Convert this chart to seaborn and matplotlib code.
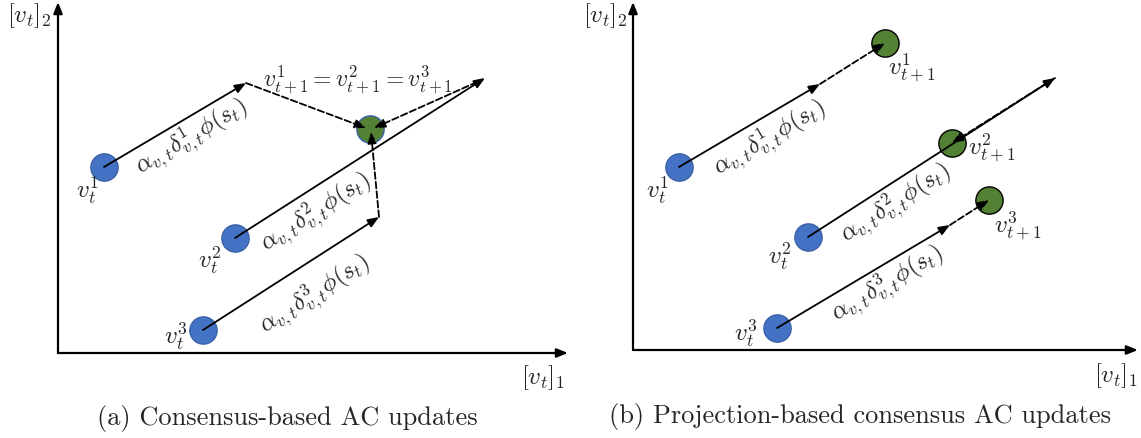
import matplotlib
matplotlib.use('Agg')
import matplotlib.pyplot as plt
import numpy as np
import pandas as pd
import seaborn as sns

# panel (a): consensus-based updates (pixel coords of each panel, y downward)
a_start_x = [104, 235, 203]
a_start_y = [167, 238, 330]
a_tip_x = [246, 485, 379]
a_tip_y = [83, 78, 217]
a_merge_x = [370]
a_merge_y = [129]

# panel (b): projection-based updates
b_start_x = [109, 238, 207]
b_start_y = [167, 237, 328]
b_tip_x = [250, 485, 380]
b_tip_y = [84, 78, 225]
b_proj_x = [315, 382, 419]
b_proj_y = [43, 143, 200]

agents = ['1', '2', '3']
captions = ['(a) Consensus-based AC updates',
            '(b) Projection-based consensus AC updates']

sns.set_theme(style='white')
plt.rcParams['mathtext.fontset'] = 'cm'
plt.rcParams['font.family'] = ['DejaVu Sans']

BLUE = '#4472C4'
GREEN = '#548235'
FS = 18


def arrow(ax, x0, y0, x1, y1, dashed=False, lw=1.3):
    ax.annotate('', xy=(x1, y1), xytext=(x0, y0),
                arrowprops=dict(arrowstyle='-|>,head_length=0.55,head_width=0.22',
                                color='black', lw=lw, shrinkA=0, shrinkB=0,
                                linestyle='--' if dashed else '-',
                                mutation_scale=12),
                zorder=4)


def frame(ax, ox, oy, right, top):
    arrow(ax, ox, oy, right, oy, lw=1.6)
    arrow(ax, ox, oy, ox, top, lw=1.6)


def nodes(ax, xs, ys, color, edge):
    df = pd.DataFrame({'x': xs, 'y': ys})
    sns.scatterplot(data=df, x='x', y='y', color=color, s=385, edgecolor=edge,
                    linewidth=1.0, legend=False, ax=ax, zorder=3)


def step_labels(ax, sx, sy, tx, ty, offsets):
    for i, k in enumerate(agents):
        ang = np.degrees(np.arctan2(sy[i] - ty[i], tx[i] - sx[i]))
        ax.text(offsets[i][0], offsets[i][1],
                r'$\alpha_{v,t}\delta^{%s}_{v,t}\phi(s_t)$' % k,
                rotation=ang, rotation_mode='anchor', ha='center', va='center',
                fontsize=17.5, zorder=5)


fig = plt.figure(figsize=(11.41, 4.38), dpi=100)
ax_a = fig.add_axes([0, 0, 570 / 1141, 1])
ax_b = fig.add_axes([570 / 1141, 0, 571 / 1141, 1])
for ax, w in ((ax_a, 570), (ax_b, 571)):
    ax.set_xlim(0, w)
    ax.set_ylim(438, 0)
    ax.axis('off')

# ---- panel (a)
frame(ax_a, 58, 353, 568, 2)
nodes(ax_a, a_start_x, a_start_y, BLUE, '#3A62A8')
nodes(ax_a, a_merge_x, a_merge_y, GREEN, '#3A62A8')
for i in range(3):
    arrow(ax_a, a_start_x[i], a_start_y[i], a_tip_x[i], a_tip_y[i])
arrow(ax_a, a_tip_x[0], a_tip_y[0], a_merge_x[0] - 4, a_merge_y[0] - 1, dashed=True)
arrow(ax_a, a_tip_x[2], a_tip_y[2], a_merge_x[0] + 1, a_merge_y[0] + 3, dashed=True)
arrow(ax_a, a_tip_x[1] - 8, a_tip_y[1] + 4, a_merge_x[0] + 4, a_merge_y[0] - 1, dashed=True)
step_labels(ax_a, a_start_x, a_start_y, a_tip_x, a_tip_y,
            [(192, 138), (316, 213), (315, 295)])
ax_a.text(358, 80, r'$v^1_{t+1} = v^2_{t+1}= v^3_{t+1}$', ha='center', va='center',
          fontsize=17)
for (x, y), k in zip([(87, 191), (210, 261), (176, 337)], agents):
    ax_a.text(x, y, r'$v^{%s}_t$' % k, ha='center', va='center', fontsize=FS)
ax_a.text(29, 16, r'$[v_t]_2$', ha='center', va='center', fontsize=FS)
ax_a.text(543, 378, r'$[v_t]_1$', ha='center', va='center', fontsize=FS)
ax_a.text(287, 419, captions[0], ha='center', va='center', fontsize=19,
          family='cmr10')

# ---- panel (b)
frame(ax_b, 63, 350, 568, 2)
nodes(ax_b, b_start_x, b_start_y, BLUE, '#3A62A8')
nodes(ax_b, b_proj_x, b_proj_y, GREEN, 'black')
for i in range(3):
    arrow(ax_b, b_start_x[i], b_start_y[i], b_tip_x[i], b_tip_y[i])
    arrow(ax_b, b_tip_x[i], b_tip_y[i], b_proj_x[i], b_proj_y[i], dashed=True)
step_labels(ax_b, b_start_x, b_start_y, b_tip_x, b_tip_y,
            [(200, 139), (326, 204), (318, 285)])
for (x, y), k in zip([(342, 68), (422, 148), (448, 226)], agents):
    ax_b.text(x, y, r'$v^{%s}_{t+1}$' % k, ha='center', va='center', fontsize=FS)
for (x, y), k in zip([(87, 191), (210, 257), (176, 334)], agents):
    ax_b.text(x, y, r'$v^{%s}_t$' % k, ha='center', va='center', fontsize=FS)
ax_b.text(35, 16, r'$[v_t]_2$', ha='center', va='center', fontsize=FS)
ax_b.text(546, 376, r'$[v_t]_1$', ha='center', va='center', fontsize=FS)
ax_b.text(290, 417, captions[1], ha='center', va='center', fontsize=19,
          family='cmr10')

fig.savefig('out.png', dpi=100)
